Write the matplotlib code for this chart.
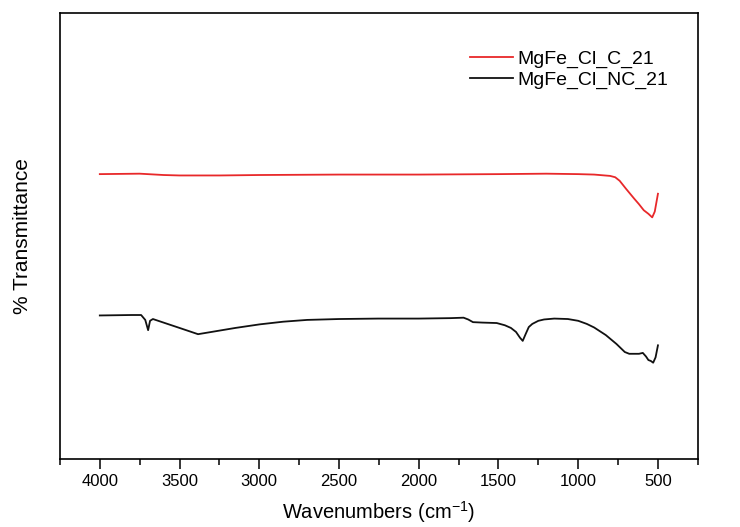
import numpy as np
import matplotlib.pyplot as plt
from matplotlib.ticker import MultipleLocator

plt.rcParams['font.family'] = ['Liberation Sans', 'DejaVu Sans']
plt.rcParams['mathtext.fontset'] = 'custom'
plt.rcParams['mathtext.rm'] = 'Liberation Sans'

# ─── Data ─────────────────────────────────────────────────────────────────────
wn_c = [4000, 3750, 3600, 3500, 3250, 3000, 2500, 2000, 1500, 1200, 1000, 900,
        800, 768, 740, 700, 649, 620, 589, 560, 536, 520, 510, 500]
t_c = [63.9, 64.0, 63.7, 63.6, 63.6, 63.7, 63.8, 63.8, 63.9, 64.0, 63.9, 63.8,
       63.5, 63.2, 62.4, 60.6, 58.4, 57.2, 55.8, 55.0, 54.2, 55.5, 57.5, 59.5]

wn_nc = [4000, 3800, 3741, 3715, 3697, 3685, 3667, 3592, 3500, 3384, 3300, 3150,
         2998, 2850, 2700, 2500, 2254, 2000, 1800, 1719, 1690, 1660, 1600, 1511,
         1460, 1422, 1390, 1365, 1348, 1330, 1310, 1288, 1250, 1214, 1150, 1065,
         1000, 946, 900, 827, 760, 708, 680, 640, 619, 595, 575, 560, 545, 530,
         515, 500]
t_nc = [32.2, 32.3, 32.3, 31.2, 28.9, 31.0, 31.4, 30.5, 29.4, 28.0, 28.5, 29.4,
        30.2, 30.8, 31.2, 31.4, 31.5, 31.5, 31.6, 31.7, 31.3, 30.7, 30.6, 30.5,
        30.0, 29.4, 28.5, 27.2, 26.5, 28.0, 29.6, 30.3, 31.0, 31.3, 31.5, 31.4,
        31.0, 30.3, 29.5, 27.8, 25.8, 24.0, 23.6, 23.6, 23.6, 23.8, 23.0, 22.2,
        22.0, 21.6, 22.8, 25.5]

labels = ['MgFe_Cl_C_21', 'MgFe_Cl_NC_21']

# ─── Plot ─────────────────────────────────────────────────────────────────────
fig = plt.figure(figsize=(7.4, 5.27), dpi=100)
ax = fig.add_axes([0.081, 0.129, 0.862, 0.846])

ax.plot(wn_c, t_c, color='#e8282a', linewidth=1.3, label=labels[0])
ax.plot(wn_nc, t_nc, color='#111111', linewidth=1.3, label=labels[1])

ax.set_xlim(4250, 250)
ax.set_ylim(0, 100)
ax.xaxis.set_major_locator(MultipleLocator(500))
ax.xaxis.set_minor_locator(MultipleLocator(250))
ax.tick_params(axis='x', which='major', direction='out', length=7, width=1.1,
               labelsize=12, pad=4)
ax.tick_params(axis='x', which='minor', direction='out', length=4, width=1.1)
ax.set_yticks([])
for s in ax.spines.values():
    s.set_linewidth(1.2)

ax.set_xlabel(r'Wavenumbers (cm$^{\mathregular{-1}}$)', fontsize=14.5, labelpad=7)
ax.set_ylabel('% Transmittance', fontsize=15, labelpad=20)

ax.legend(loc='upper left', bbox_to_anchor=(0.643, 0.917), frameon=False,
          fontsize=14, handlelength=2.2, handletextpad=0.25, labelspacing=0.15,
          borderpad=0, borderaxespad=0)

fig.savefig('out.png', dpi=100)
